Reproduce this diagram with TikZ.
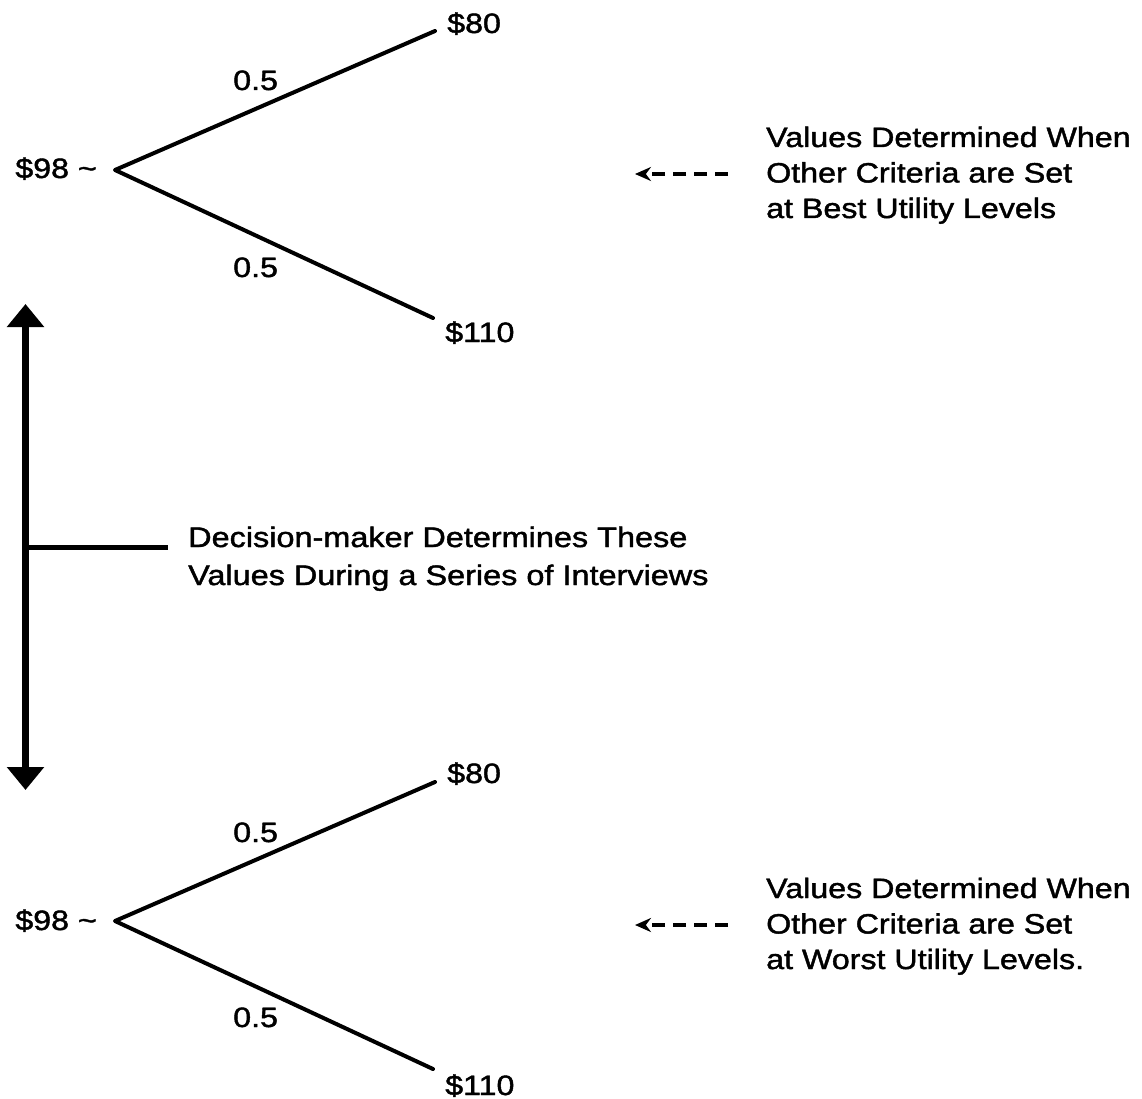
\documentclass[tikz,border=0pt]{standalone}
\usepackage{fontspec}
\setmainfont[FakeStretch=1.15,FakeBold=1.5]{Liberation Sans}
\usetikzlibrary{arrows.meta}
\begin{document}
\begin{tikzpicture}[x=1pt,y=-1pt,
  lbl/.style={inner sep=0pt, anchor=base west, font=\fontsize{28}{35.5}\selectfont},
  lble/.style={inner sep=0pt, anchor=base east, font=\fontsize{28}{35.5}\selectfont},
  para/.style={inner sep=0pt, anchor=base west, align=left, font=\fontsize{28}{35.5}\selectfont},
  bigpara/.style={inner sep=0pt, anchor=base west, align=left, font=\fontsize{28.2}{38}\selectfont},
  branch/.style={line width=4pt, line cap=round, line join=round},
  dasharrow/.style={line width=3.2pt, dash pattern=on 13pt off 8pt, -{Stealth[length=16pt,width=14pt]}},
  bigarrow/.style={line width=7pt, {Triangle[length=23pt,width=36pt]}-{Triangle[length=23pt,width=36pt]}}
]
\useasboundingbox (0,0) rectangle (1142,1099);
\fill[white] (0,0) rectangle (1142,1099);

% top tree
\coordinate (v1) at (115,170);
\coordinate (a1) at (435,31);
\coordinate (b1) at (433,318);
\draw[branch] (a1) -- (v1) -- (b1);
\node[lble] (s1) at (97,178) {\$98 \textasciitilde};
\node[lbl] (t1) at (447,33) {\$80};
\node[lbl] (u1) at (445,342) {\$110};
\node[lbl] (p1) at (233,90) {0.5};
\node[lbl] (q1) at (233,277) {0.5};

% bottom tree
\coordinate (v2) at (115,921);
\coordinate (a2) at (435,782);
\coordinate (b2) at (433,1069);
\draw[branch] (a2) -- (v2) -- (b2);
\node[lble] (s2) at (97,930) {\$98 \textasciitilde};
\node[lbl] (t2) at (447,783) {\$80};
\node[lbl] (u2) at (445,1095) {\$110};
\node[lbl] (p2) at (233,842) {0.5};
\node[lbl] (q2) at (233,1027) {0.5};

% double arrow and tick
\coordinate (up) at (25.5,304);
\coordinate (dn) at (25.5,790);
\draw[bigarrow] (up) -- (dn);
\coordinate (tk0) at (25.5,547);
\coordinate (tk1) at (168,547);
\draw[line width=5pt] (tk0) -- (tk1);
\node[bigpara] (dm) at (188,585) {Decision-maker Determines These\\Values During a Series of Interviews};

% right notes
\coordinate (d1s) at (728,174);
\coordinate (d1e) at (635,174);
\draw[dasharrow] (d1s) -- (d1e);
\node[para] (n1) at (766,218) {Values Determined When\\Other Criteria are Set\\at Best Utility Levels};

\coordinate (d2s) at (728,925);
\coordinate (d2e) at (635,925);
\draw[dasharrow] (d2s) -- (d2e);
\node[para] (n2) at (766,969) {Values Determined When\\Other Criteria are Set\\at Worst Utility Levels.};
\end{tikzpicture}
\end{document}
